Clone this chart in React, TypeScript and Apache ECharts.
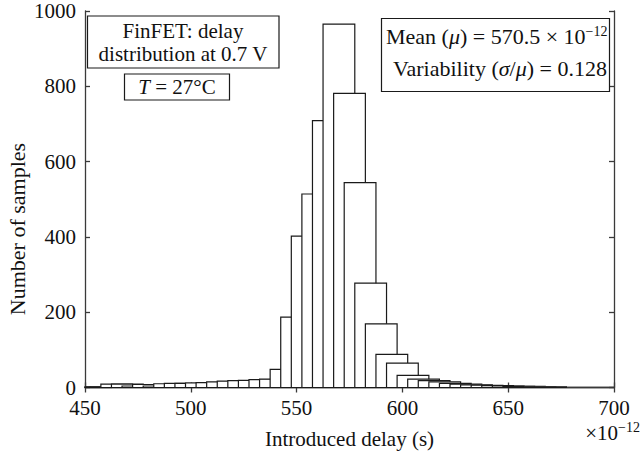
import React, { useEffect, useRef } from "react";
import * as echarts from "echarts";

// Bin centres (×10^-12 s) and sample counts
const binCenters = [
  455, 460, 465, 470, 475, 480, 485, 490, 495, 500,
  505, 510, 515, 520, 525, 530, 535, 540, 545, 550,
  555, 560, 565, 570, 575, 580, 585, 590, 595, 600,
  605, 610, 615, 620, 625, 630, 635, 640, 645, 650,
  655, 660, 665, 670,
];
const sampleCounts = [
  2, 2, 9, 9, 4, 8, 4, 10, 11, 11,
  12, 13, 15, 17, 18, 19, 21, 22, 48, 187,
  402, 514, 709, 965, 781, 544, 277, 169, 88, 65,
  32, 22, 18, 15, 11, 9, 7, 6, 5, 4,
  3, 3, 2, 2,
];
const barSpan = 15; // drawn width of each bar, in axis units

const xTicks = { min: 450, max: 700, interval: 50 };
const yTicks = { min: 0, max: 1000, interval: 200 };

const FONT = "Liberation Serif";

export default function App() {
  const ref = useRef<HTMLDivElement>(null);

  useEffect(() => {
    if (!ref.current) return;
    const chart = echarts.init(ref.current, undefined, { renderer: "svg" });
    const data = binCenters.map((c, i) => [c, sampleCounts[i]]);
    const axisLine = { show: true, lineStyle: { color: "#3a3a3a", width: 1.3 } };
    const tick = { show: true, inside: true, length: 5, lineStyle: { color: "#3a3a3a", width: 1.3 } };
    const label = { color: "#111", fontFamily: FONT, fontSize: 21 };

    chart.setOption({
      animation: false,
      backgroundColor: "#fff",
      grid: { left: 85, right: 26, top: 11, bottom: 63.5, outerBoundsMode: "none", containLabel: false },
      xAxis: [
        {
          type: "value", ...xTicks, position: "bottom",
          axisLine, axisTick: tick, splitLine: { show: false },
          axisLabel: { ...label, margin: 10, formatter: (v: number) => String(v) },
          name: "Introduced delay (s)", nameLocation: "middle", nameGap: 41,
          nameTextStyle: { ...label },
        },
        {
          type: "value", ...xTicks, position: "top",
          axisLine, axisTick: tick, splitLine: { show: false }, axisLabel: { show: false },
        },
      ],
      yAxis: [
        {
          type: "value", ...yTicks, position: "left",
          axisLine, axisTick: tick, splitLine: { show: false },
          axisLabel: { ...label, margin: 9, formatter: (v: number) => String(v) },
        },
        {
          type: "value", ...yTicks, position: "right",
          axisLine, axisTick: tick, splitLine: { show: false }, axisLabel: { show: false },
        },
      ],
      series: [
        {
          type: "custom",
          xAxisIndex: 0,
          yAxisIndex: 0,
          data,
          renderItem: (params: any, api: any) => {
            const c = api.value(0);
            const v = api.value(1);
            const p0 = api.coord([c - barSpan / 2, v]);
            const p1 = api.coord([c + barSpan / 2, 0]);
            const shape = echarts.graphic.clipRectByRect(
              { x: p0[0], y: p0[1], width: p1[0] - p0[0], height: p1[1] - p0[1] },
              params.coordSys
            );
            if (!shape) return null;
            return {
              type: "rect",
              shape,
              style: { fill: "#fff", stroke: "#1a1a1a", lineWidth: 1.2 },
            };
          },
        },
      ],
      graphic: [
        {
          type: "text", x: 17, y: 229, rotation: Math.PI / 2, z: 11,
          style: { text: "Number of samples", fontFamily: FONT, fontSize: 22, fill: "#111", align: "center", verticalAlign: "middle" },
        },
        { type: "rect", shape: { x: 87.5, y: 16, width: 191.5, height: 52 }, style: { fill: "#fff", stroke: "#1a1a1a", lineWidth: 1.2 }, z: 10 },
        {
          type: "text", x: 183, y: 42, z: 11,
          style: { text: "FinFET: delay\ndistribution at 0.7 V", fontFamily: FONT, fontSize: 21, lineHeight: 23, fill: "#111", align: "center", verticalAlign: "middle" },
        },
        { type: "rect", shape: { x: 124.5, y: 74, width: 105, height: 26 }, style: { fill: "#fff", stroke: "#1a1a1a", lineWidth: 1.2 }, z: 10 },
        {
          type: "text", x: 177, y: 87, z: 11,
          style: {
            text: "{i|T}{a| = 27°C}",
            align: "center", verticalAlign: "middle",
            rich: {
              a: { fontFamily: FONT, fontSize: 21, fill: "#111", lineHeight: 22 },
              i: { fontFamily: FONT, fontSize: 21, fill: "#111", fontStyle: "italic", lineHeight: 22 },
            },
          },
        },
        { type: "rect", shape: { x: 381.5, y: 18.5, width: 228, height: 73 }, style: { fill: "#fff", stroke: "#1a1a1a", lineWidth: 1.2 }, z: 10 },
        {
          type: "text", x: 386, y: 36, z: 11,
          style: {
            text: "{a|Mean (}{i|μ}{a|) = 570.5 × 10}{s|−12}",
            align: "left", verticalAlign: "middle",
            rich: {
              a: { fontFamily: FONT, fontSize: 22, fill: "#111", lineHeight: 24 },
              i: { fontFamily: FONT, fontSize: 22, fill: "#111", fontStyle: "italic", lineHeight: 24 },
              s: { fontFamily: FONT, fontSize: 14, fill: "#111", verticalAlign: "top", lineHeight: 24 },
            },
          },
        },
        {
          type: "text", x: 607, y: 68, z: 11,
          style: {
            text: "{a|Variability (}{i|σ}{a|/}{i|μ}{a|) = 0.128}",
            align: "right", verticalAlign: "middle",
            rich: {
              a: { fontFamily: FONT, fontSize: 22, fill: "#111" },
              i: { fontFamily: FONT, fontSize: 22, fill: "#111", fontStyle: "italic" },
            },
          },
        },
        {
          type: "text", x: 640, y: 433, z: 11,
          style: {
            text: "{a|×10}{s|−12}",
            align: "right", verticalAlign: "middle",
            rich: {
              a: { fontFamily: FONT, fontSize: 21, fill: "#111", lineHeight: 26 },
              s: { fontFamily: FONT, fontSize: 14, fill: "#111", verticalAlign: "top", lineHeight: 26 },
            },
          },
        },
      ],
    });
    return () => chart.dispose();
  }, []);

  return <div ref={ref} style={{ width: 640, height: 451, position: "absolute", left: 0, top: 0 }} />;
}
